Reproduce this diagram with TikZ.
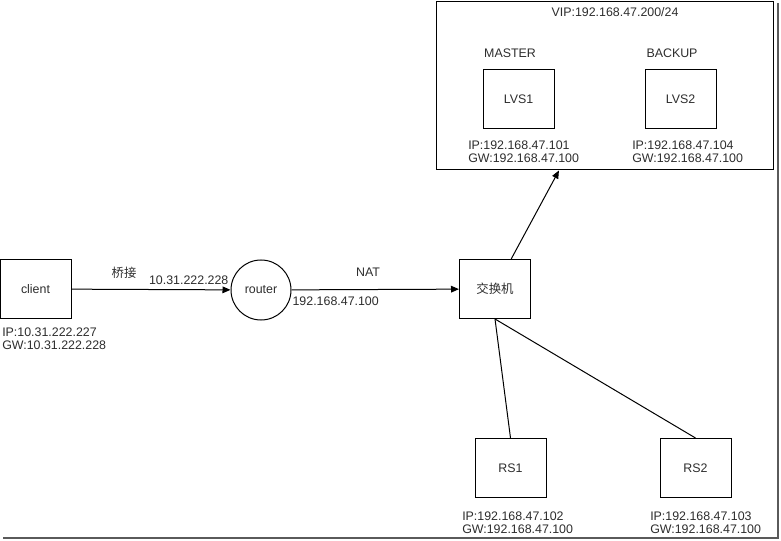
\documentclass[tikz,border=0pt]{standalone}
\usepackage{fontspec}
\setmainfont{Liberation Sans}
\newfontfamily\cjk{Noto Sans CJK SC}
\usetikzlibrary{arrows.meta,positioning}
\definecolor{texteGris}{RGB}{45,45,45}
\definecolor{ombreCadre}{RGB}{90,90,90}

\begin{document}
\begin{tikzpicture}[x=0.75pt, y=-0.75pt, font=\fontsize{9.3}{9.75}\selectfont, text=texteGris,
  boite/.style={draw, line width=0.75pt, minimum width=53.25pt, minimum height=44.25pt, inner sep=0pt},
  adresse/.style={anchor=north west, align=left, inner sep=0pt},
  fleche/.style={-{Triangle[length=6pt,width=5pt]}, line width=0.75pt}]

\useasboundingbox (0,0) rectangle (781,541);

% groupe LVS
\node[draw, line width=0.75pt, minimum width=252.75pt, minimum height=126pt] (vip) at (604.5,86) {};
\node (vipTxt) at (615,12) {VIP:192.168.47.200/24};
\node (master) at (510,53) {MASTER};
\node (backup) at (672,53) {BACKUP};
\node[boite] (lvs1) at (518.5,99.5) {LVS1};
\node[boite] (lvs2) at (680.5,99.5) {LVS2};
\node[adresse] (lvs1ip) at (468,140.5) {IP:192.168.47.101\\GW:192.168.47.100};
\node[adresse] (lvs2ip) at (632,140.5) {IP:192.168.47.104\\GW:192.168.47.100};

% client, routeur, commutateur
\node[boite] (client) at (35.5,289) {client};
\node[adresse] (clientip) at (2,327.5) {IP:10.31.222.227\\GW:10.31.222.228};
\node[draw, circle, line width=0.75pt, minimum size=45pt, inner sep=0pt] (router) at (261,290) {router};
\node[boite] (switch) at (495,289) {\cjk 交换机};

\node (pont) at (124,273) {\cjk 桥接};
\node[anchor=east, inner sep=1pt] (routerIn) at (230,280) {10.31.222.228};
\node (nat) at (368,272) {NAT};
\node[anchor=west, inner sep=1pt] (routerOut) at (291,301) {192.168.47.100};

% serveurs reels
\node[boite] (rs1) at (510.5,468) {RS1};
\node[boite] (rs2) at (695.5,468) {RS2};
\node[adresse] (rs1ip) at (462,511.5) {IP:192.168.47.102\\GW:192.168.47.100};
\node[adresse] (rs2ip) at (650,511.5) {IP:192.168.47.103\\GW:192.168.47.100};

\draw[fleche] (client) -- (router);
\draw[fleche] (router) -- (switch);
\draw[fleche] (switch) -- (vip);
\draw[line width=0.75pt] (switch.south) -- (rs1.north);
\draw[line width=0.75pt] (switch.south) -- (rs2.north);

% ombre du cadre
\draw[ombreCadre, line width=1.5pt] (3,538) -- (778,538) -- (778,3);

\end{tikzpicture}
\end{document}
